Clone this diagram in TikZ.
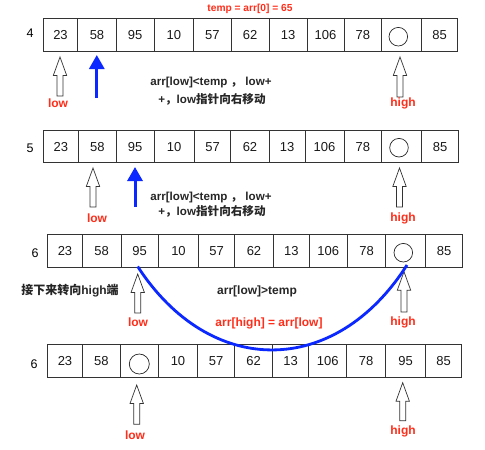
\documentclass[tikz,border=0pt]{standalone}
\usepackage{fontspec}
\setmainfont{Liberation Sans}
\newfontfamily\cjk{Noto Sans CJK SC}
\usetikzlibrary{arrows.meta}
\definecolor{lblred}{RGB}{255,45,25}
\definecolor{curveblue}{RGB}{10,40,255}
\newcommand\hollowarrow[3]{%
  \draw[hollow] (#1,#2) -- (#1+6.7,#2+18.5) -- (#1+3,#2+18.5) -- (#1+3,#3) -- (#1-3,#3) -- (#1-3,#2+18.5) -- (#1-6.7,#2+18.5) -- cycle;}
\begin{document}
\begin{tikzpicture}[x=1pt,y=-1pt,
  cellline/.style={draw=black!80,line width=0.8pt},
  num/.style={font=\fontsize{13}{15}\selectfont,text=black!90,inner sep=0pt},
  rowlbl/.style={font=\fontsize{12.5}{14}\selectfont,inner sep=0pt},
  ptr/.style={font=\fontsize{12}{14}\selectfont\bfseries,text=lblred,inner sep=0pt},
  note/.style={font=\fontsize{11.6}{14}\selectfont\bfseries,text=black!85,inner sep=0pt},
  hollow/.style={draw=black!80,fill=white,line width=0.7pt},
  bluearrow/.style={draw=curveblue,line width=3pt,-{Triangle[width=15pt,length=14pt]}},
  slot/.style={circle,draw=black!85,line width=0.7pt,minimum size=18.6pt,inner sep=0pt}]
\useasboundingbox (0,0) rectangle (485,450);

% ---------- row 4 ----------
\node[rowlbl] (l4) at (30,33) {4};
\foreach \a/\b/\v [count=\i] in {43.3/77.7/23,77.7/116.3/58,116.3/154/95,154/193.7/10,193.7/231/57,231/269.3/62,269.3/307/13,307/344/106,344/381.7/78,381.7/421.7/{},421.7/457.3/85}{
  \draw[cellline] (\a,18.5) rectangle (\b,51.7);
  \node[num] (r4c\i) at ({(\a+\b)/2},35.3) {\v};
}
\node[slot] (h4) at (398.3,36.7) {};
\node[font=\fontsize{10.2}{12}\selectfont\bfseries,text=lblred,inner sep=0pt] (temp) at (250,8.5) {temp = arr[0] = 65};
\hollowarrow{60}{57}{96}
\coordinate (b4s) at (96.8,98); \coordinate (b4e) at (96.8,55);
\draw[bluearrow] (b4s) -- (b4e);
\hollowarrow{400}{57}{97}
\node[ptr] (low4) at (58,103) {low};
\node[ptr] (high4) at (403,103.5) {high};
\node[note] (n4a) at (211,82) {arr[low]<temp {\cjk ，} low+};
\node[note] (n4b) at (212,99) {+{\cjk ，}low{\cjk 指针向右移动}};

% ---------- row 5 ----------
\node[rowlbl] (l5) at (30,148) {5};
\foreach \a/\b/\v [count=\i] in {43.3/78.3/23,78.3/116.3/58,116.3/154/95,154/194.3/10,194.3/230.7/57,230.7/269.3/62,269.3/305/13,305/344/106,344/381.7/78,381.7/421.7/{},421.7/458.3/85}{
  \draw[cellline] (\a,130) rectangle (\b,162.3);
  \node[num] (r5c\i) at ({(\a+\b)/2},146.7) {\v};
}
\node[slot] (h5) at (399,147.7) {};
\hollowarrow{93}{168}{207}
\coordinate (b5s) at (135,206.5); \coordinate (b5e) at (135,167);
\draw[bluearrow] (b5s) -- (b5e);
\hollowarrow{399.5}{168}{207}
\node[ptr] (low5) at (97,218) {low};
\node[ptr] (high5) at (403,218.5) {high};
\node[note] (n5a) at (211,197.3) {arr[low]<temp {\cjk ，} low+};
\node[note] (n5b) at (212,211.7) {+{\cjk ，}low{\cjk 指针向右移动}};

% ---------- row 6 ----------
\node[rowlbl] (l6) at (35,253.5) {6};
\foreach \a/\b/\v [count=\i] in {47.7/82.3/23,82.3/121/58,121/158.3/95,158.3/198.7/10,198.7/234.7/57,234.7/273.3/62,273.3/309.3/13,309.3/347.3/106,347.3/385.7/78,385.7/425.7/{},425.7/462.7/85}{
  \draw[cellline] (\a,234.3) rectangle (\b,267.3);
  \node[num] (r6c\i) at ({(\a+\b)/2},251.2) {\v};
}
\node[slot] (h6) at (403.3,252.7) {};
\hollowarrow{137.7}{274}{313}
\hollowarrow{404}{271.7}{312}
\node[note,font=\fontsize{12}{14}\selectfont\bfseries] (turn) at (70,291) {{\cjk 接下来转向}high{\cjk 端}};
\node[note,font=\fontsize{12}{14}\selectfont\bfseries] (gt) at (257,291.7) {arr[low]>temp};
\node[ptr] (low6) at (138,322) {low};
\node[ptr] (high6) at (403,322) {high};
\node[ptr] (assign) at (269,323) {arr[high] = arr[low]};

% ---------- row 7 ----------
\node[rowlbl] (l7) at (34,364) {6};
\foreach \a/\b/\v [count=\i] in {47.7/82.3/23,82.3/120.3/58,120.3/158.3/{},158.3/197.7/10,197.7/234.7/57,234.7/272.7/62,272.7/308.7/13,308.7/346.7/106,346.7/385.7/78,385.7/425.7/95,425.7/461.7/85}{
  \draw[cellline] (\a,344.3) rectangle (\b,377.3);
  \node[num] (r7c\i) at ({(\a+\b)/2},361.2) {\v};
}
\node[slot,minimum size=20pt] (h7) at (139.3,364) {};
\hollowarrow{136.7}{385}{424.3}
\hollowarrow{402.7}{382.7}{420.7}
\node[ptr] (low7) at (135,435) {low};
\node[ptr] (high7) at (403,431) {high};

% ---------- move curve ----------
\coordinate (cs) at (137.7,266.5);
\coordinate (ce) at (407,265);
\draw[curveblue,line width=2.8pt] (cs) .. controls (210,378) and (335,378) .. (ce);
\end{tikzpicture}
\end{document}
